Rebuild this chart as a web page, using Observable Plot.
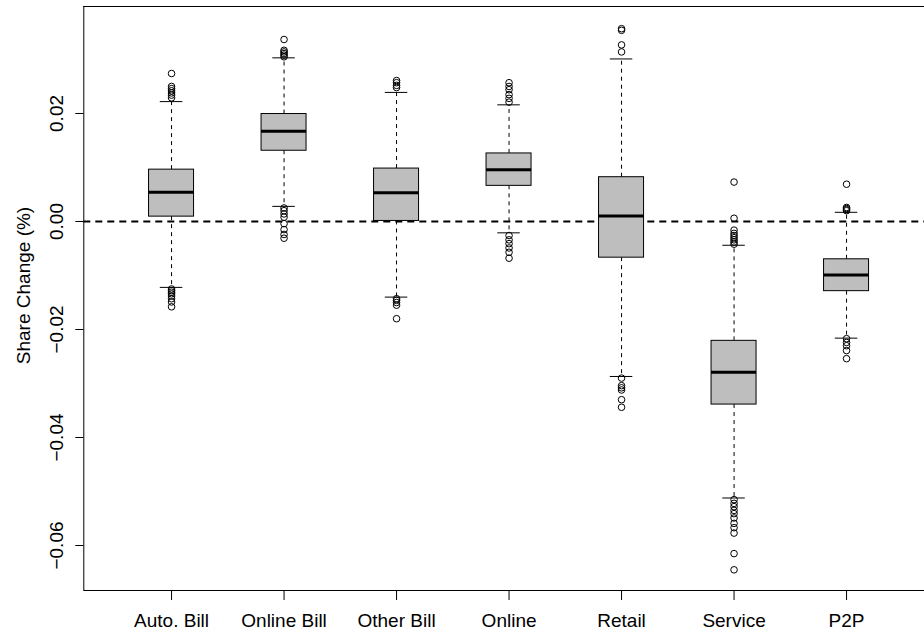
<!DOCTYPE html>
<html><head><meta charset="utf-8">
<script src="https://cdn.jsdelivr.net/npm/d3@7"></script>
<script src="https://cdn.jsdelivr.net/npm/@observablehq/plot@0.6"></script>
<style>html,body{margin:0;padding:0;background:#fff;overflow:hidden}</style>
</head><body><div id="chart"></div>
<script>
const categories = ["Auto. Bill", "Online Bill", "Other Bill", "Online", "Retail", "Service", "P2P"];
const q1 = [0.0009, 0.0131, 0.0001, 0.0066, -0.0067, -0.0339, -0.0129];
const median = [0.0054, 0.0167, 0.0053, 0.0096, 0.0010, -0.0279, -0.0099];
const q3 = [0.0096, 0.0199, 0.0098, 0.0126, 0.0082, -0.0221, -0.0070];
const whiskerLow = [-0.0122, 0.0028, -0.0140, -0.0021, -0.0287, -0.0512, -0.0216];
const whiskerHigh = [0.0222, 0.0303, 0.0239, 0.0216, 0.0301, -0.0044, 0.0017];
const outliers = [
  [0.0274, 0.0250, 0.0246, 0.0242, 0.0238, 0.0234, 0.0229, -0.0125, -0.0128, -0.0131, -0.0134, -0.0138, -0.0143, -0.0149, -0.0158],
  [0.0337, 0.0317, 0.0314, 0.0311, 0.0308, 0.0305, 0.0025, 0.0020, 0.0014, 0.0008, -0.0004, -0.0015, -0.0024, -0.0031],
  [0.0261, 0.0257, 0.0252, 0.0248, -0.0143, -0.0146, -0.0150, -0.0155, -0.0180],
  [0.0257, 0.0250, 0.0244, 0.0235, 0.0228, 0.0221, -0.0026, -0.0034, -0.0041, -0.0049, -0.0057, -0.0068],
  [0.0357, 0.0354, 0.0327, 0.0314, -0.0290, -0.0304, -0.0308, -0.0312, -0.0330, -0.0344],
  [0.0073, 0.0006, -0.0016, -0.0022, -0.0026, -0.0030, -0.0034, -0.0038, -0.0042, -0.0515, -0.0522, -0.0528, -0.0535, -0.0541, -0.0549, -0.0559, -0.0567, -0.0577, -0.0615, -0.0645],
  [0.0069, 0.0026, 0.0024, 0.0022, 0.0020, -0.0217, -0.0224, -0.0230, -0.0239, -0.0254]
];
const yTicks = [-0.06, -0.04, -0.02, 0, 0.02];
const yLabel = "Share Change (%)";

const boxes = categories.map((c, i) => ({pos: i + 1, cat: c, q1: q1[i], med: median[i], q3: q3[i], lo: whiskerLow[i], hi: whiskerHigh[i]}));
const points = outliers.flatMap((arr, i) => arr.map(v => ({pos: i + 1, v})));

const W = 924, H = 636, mL = 83.3, mT = 6, mB = 46;
const unit = 112.5;
const xDomain = [0.22, 0.22 + (W - mL) / unit];
const yDomain = [-0.06833, 0.03981];
const fmt = d3.format(".2f");
const font = "'Liberation Sans', Arial, Helvetica, sans-serif";
const fs = 19;
const half = 0.2, cap = 0.1;

const chart = Plot.plot({
  width: W, height: H, marginLeft: mL, marginTop: mT, marginBottom: mB, marginRight: 0,
  style: {fontFamily: font, fontSize: fs + "px", background: "#fff", color: "#000"},
  x: {type: "linear", domain: xDomain},
  y: {domain: yDomain},
  marks: [
    Plot.ruleY([0], {stroke: "#000", strokeWidth: 2, strokeDasharray: "7,5"}),
    Plot.ruleX(boxes, {x: "pos", y1: "q3", y2: "hi", stroke: "#000", strokeDasharray: "4,4"}),
    Plot.ruleX(boxes, {x: "pos", y1: "q1", y2: "lo", stroke: "#000", strokeDasharray: "4,4"}),
    Plot.ruleY(boxes, {y: "hi", x1: d => d.pos - cap, x2: d => d.pos + cap, stroke: "#000"}),
    Plot.ruleY(boxes, {y: "lo", x1: d => d.pos - cap, x2: d => d.pos + cap, stroke: "#000"}),
    Plot.rect(boxes, {x1: d => d.pos - half, x2: d => d.pos + half, y1: "q1", y2: "q3", fill: "#bebebe", stroke: "#000", strokeWidth: 1}),
    Plot.ruleY(boxes, {y: "med", x1: d => d.pos - half, x2: d => d.pos + half, stroke: "#000", strokeWidth: 3}),
    Plot.dot(points, {x: "pos", y: "v", r: 3.3, stroke: "#000", fill: "none", strokeWidth: 1}),
    Plot.ruleY([yDomain[1]], {stroke: "#000"}),
    Plot.ruleY([yDomain[0]], {stroke: "#000"}),
    Plot.ruleX([xDomain[0]], {stroke: "#000"}),
    Plot.axisX({ticks: categories.map((c, i) => i + 1), tickFormat: i => categories[i - 1], tickSize: 10, tickPadding: 13, fontSize: fs, label: null}),
    Plot.axisY({ticks: yTicks, tickSize: 8, tickFormat: () => "", label: null}),
    Plot.text(yTicks, {y: d => d, text: d => fmt(d), frameAnchor: "left", dx: -21.3, rotate: -90, textAnchor: "middle", lineAnchor: "bottom", fontSize: fs}),
    Plot.text([yLabel], {text: d => d, frameAnchor: "left", dx: 29 - mL, dy: -13, rotate: -90, textAnchor: "middle", lineAnchor: "bottom", fontSize: fs})
  ]
});
document.getElementById("chart").appendChild(chart);
</script>
</body></html>
